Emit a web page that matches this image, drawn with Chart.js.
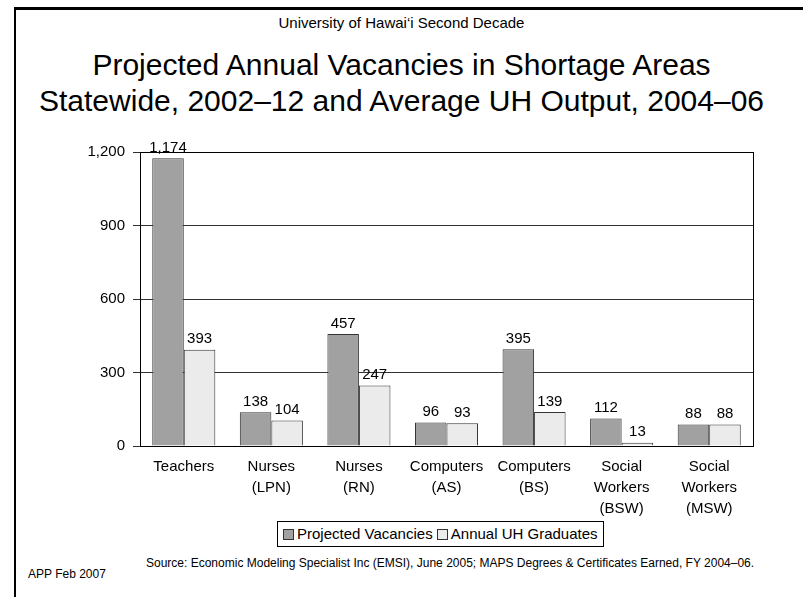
<!DOCTYPE html>
<html>
<head>
<meta charset="utf-8">
<script src="https://cdn.jsdelivr.net/npm/chart.js@4.4.1/dist/chart.umd.min.js"></script>
<style>
  html, body { margin: 0; padding: 0; background: #fff; }
  body { width: 803px; height: 597px; position: relative; overflow: hidden;
         font-family: "Liberation Sans", Arial, sans-serif; color: #000; }
  .frame { position: absolute; left: 14px; top: 7px; width: 800px; height: 600px;
           border-left: 2px solid #000; border-top: 3px solid #000; }
  .heading { position: absolute; left: 0; width: 803px; top: 14px; text-align: center; font-size: 15px; }
  .title { position: absolute; left: 0; width: 803px; top: 47px; text-align: center;
           font-size: 30px; line-height: 36px; }
  #wrap { position: absolute; left: 0; top: 130px; width: 803px; height: 391px; }
  #legend { position: absolute; left: 277px; top: 521px; height: 24px; padding: 0 5px;
            border: 1px solid #000; font-size: 15px; line-height: 24px; white-space: nowrap; }
  #legend span.sw { display: inline-block; width: 9px; height: 9px; border: 1px solid #333;
                    margin: 0 3px 0 0; vertical-align: -1px; }
  .source { position: absolute; left: 146px; top: 556px; font-size: 12px; }
  .app { position: absolute; left: 28px; top: 567px; font-size: 12px; }
</style>
</head>
<body>
<div class="frame"></div>
<div class="heading">University of Hawai‘i Second Decade</div>
<div class="title">Projected Annual Vacancies in Shortage Areas<br>Statewide, 2002–12 and Average UH Output, 2004–06</div>
<div id="wrap"><canvas id="vacChart"></canvas></div>
<div id="legend"></div>
<div class="source">Source: Economic Modeling Specialist Inc (EMSI), June 2005; MAPS Degrees &amp; Certificates Earned, FY 2004–06.</div>
<div class="app">APP Feb 2007</div>
<script>
const categories = [
  ['Teachers'],
  ['Nurses', '(LPN)'],
  ['Nurses', '(RN)'],
  ['Computers', '(AS)'],
  ['Computers', '(BS)'],
  ['Social', 'Workers', '(BSW)'],
  ['Social', 'Workers', '(MSW)']
];
const projectedVacancies = [1174, 138, 457, 96, 395, 112, 88];
const uhGraduates = [393, 104, 247, 93, 139, 13, 88];
const yMin = 0;
const yMax = 1200;
const yStep = 300;

const font = '"Liberation Sans", Arial, sans-serif';

const datasets = [{
  label: 'Projected Vacancies',
  data: projectedVacancies,
  backgroundColor: '#a1a1a1',
  borderColor: '#333',
  borderWidth: 1
}, {
  label: 'Annual UH Graduates',
  data: uhGraduates,
  backgroundColor: '#ebebeb',
  borderColor: '#333',
  borderWidth: 1
}];

// value labels above each bar
const valueLabels = {
  id: 'valueLabels',
  afterDatasetsDraw(chart) {
    const ctx = chart.ctx;
    ctx.save();
    ctx.font = '15px ' + font;
    ctx.fillStyle = '#000';
    ctx.textAlign = 'center';
    ctx.textBaseline = 'bottom';
    chart.data.datasets.forEach((ds, i) => {
      chart.getDatasetMeta(i).data.forEach((bar, j) => {
        ctx.fillText(ds.data[j].toLocaleString('en-US'), bar.x, bar.y - 3);
      });
    });
    ctx.restore();
  }
};

// box round the plot area
const plotFrame = {
  id: 'plotFrame',
  afterDraw(chart) {
    const a = chart.chartArea;
    const ctx = chart.ctx;
    ctx.save();
    ctx.strokeStyle = '#000';
    ctx.lineWidth = 1;
    ctx.strokeRect(Math.round(a.left) + 0.5, Math.round(a.top) + 0.5,
                   Math.round(a.right - a.left), Math.round(a.bottom - a.top));
    ctx.restore();
  }
};

const chart = new Chart(document.getElementById('vacChart').getContext('2d'), {
  type: 'bar',
  data: { labels: categories, datasets: datasets },
  plugins: [valueLabels, plotFrame],
  options: {
    responsive: true,
    maintainAspectRatio: false,
    animation: false,
    layout: { padding: { top: 22, right: 50, left: 0, bottom: 0 } },
    plugins: {
      legend: { display: false },
      tooltip: { enabled: false }
    },
    datasets: {
      bar: { categoryPercentage: 0.72, barPercentage: 1 }
    },
    scales: {
      x: {
        grid: { display: false },
        border: { color: '#000', width: 1 },
        ticks: { color: '#000', padding: 2, maxRotation: 0, autoSkip: false,
                 font: { family: font, size: 15, lineHeight: 1.4 } },
        afterFit(scale) { scale.height = 75; }
      },
      y: {
        min: yMin,
        max: yMax,
        grid: { color: '#333', tickLength: 7 },
        border: { color: '#000', width: 1 },
        ticks: { stepSize: yStep, color: '#000', padding: 8,
                 font: { family: font, size: 15 } },
        afterFit(scale) { scale.width = 140; }
      }
    }
  }
});

// legend drawn from the same datasets
document.getElementById('legend').innerHTML = datasets.map(ds =>
  '<span class="sw" style="background:' + ds.backgroundColor + '"></span>' + ds.label
).join(' ');
</script>
</body>
</html>
